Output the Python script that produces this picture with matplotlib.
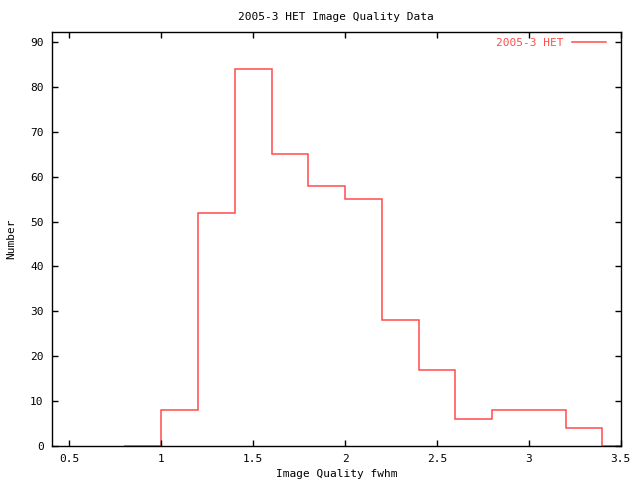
import matplotlib
matplotlib.use("Agg")
import matplotlib.pyplot as plt
import numpy as np

# bin edges and counts (histeps style, last bin clipped at x=3.5)
bin_edges = [0.8, 1.0, 1.2, 1.4, 1.6, 1.8, 2.0, 2.2, 2.4, 2.6, 2.8, 3.0, 3.2, 3.4, 3.5]
counts = [0, 8, 52, 84, 65, 58, 55, 28, 17, 6, 8, 8, 4, 0]
x_ticks = [0.5, 1, 1.5, 2, 2.5, 3, 3.5]
x_ticklabels = ["0.5", "1", "1.5", "2", "2.5", "3", "3.5"]
y_ticks = [0, 10, 20, 30, 40, 50, 60, 70, 80, 90]

RED = "#ff4c4c"
plt.rcParams["font.family"] = "DejaVu Sans Mono"
plt.rcParams["font.size"] = 8

fig = plt.figure(figsize=(6.4, 4.8), dpi=100)
ax = fig.add_axes([0.081, 0.0708, 0.889, 0.8625])

ax.stairs(counts, bin_edges, color=RED, linewidth=1.1, label="2005-3 HET")

ax.set_xlim(0.405, 3.5)
ax.set_ylim(0, 92.2)
ax.set_xticks(x_ticks)
ax.set_xticklabels(x_ticklabels)
ax.set_yticks(y_ticks)
ax.tick_params(direction="in", length=4.5, width=1, top=True, right=True, pad=6)
for s in ax.spines.values():
    s.set_linewidth(1)

ax.set_title("2005-3 HET Image Quality Data", fontsize=8, pad=9)
ax.set_xlabel("Image Quality fwhm", labelpad=3)
ax.set_ylabel("Number", labelpad=10)

ax.legend(loc="upper right", bbox_to_anchor=(0.984, 1.0), frameon=False,
          markerfirst=False, labelcolor=RED, handlelength=3.1, handletextpad=0.7,
          borderaxespad=0.4, borderpad=0.1)

fig.savefig("out.png", dpi=100)
